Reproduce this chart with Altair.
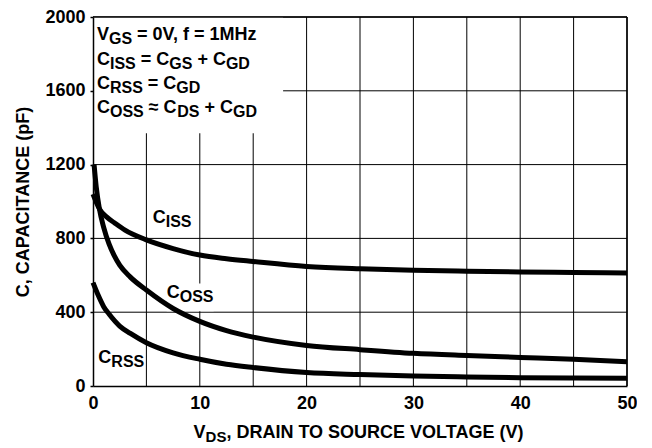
import altair as alt
import pandas as pd

# ---------------- data ----------------
V_ISS = [0, 0.6, 1.3, 2, 3, 5, 7.5, 10, 12.5, 15, 20, 25, 30, 35, 40, 45, 50]
C_ISS = [1040, 960, 915, 885, 845, 792, 745, 710, 690, 675, 648, 635, 627, 622, 618, 615, 612]

V_OSS = [0.1, 0.3, 0.6, 1, 1.5, 2, 2.5, 3.5, 5, 7.5, 10, 12.5, 15, 20, 25, 30, 35, 40, 45, 50]
C_OSS = [1200, 1080, 960, 860, 770, 705, 655, 590, 520, 420, 350, 300, 265, 220, 197, 177, 165, 155, 145, 132]

V_RSS = [0, 0.5, 1, 1.5, 2.5, 3.5, 5, 7.5, 10, 12.5, 15, 20, 25, 30, 35, 40, 45, 50]
C_RSS = [560, 490, 430, 390, 325, 285, 235, 180, 145, 118, 100, 73, 62, 54, 49, 45, 43, 42]

X_TICKS = [0, 10, 20, 30, 40, 50]
Y_TICKS = [0, 400, 800, 1200, 1600, 2000]
X_GRID = [5, 10, 15, 20, 25, 30, 35, 40, 45, 50]
Y_GRID = [400, 800, 1200, 1600, 2000]

# legend box (data units) and label backgrounds
BOX = dict(x=0, x2=17.8, y=1370, y2=2000)
COSS_BG = dict(x=6.9, x2=11.3, y=405, y2=555)

BOX_LINES = [
    [("V", False), ("GS", True), (" = 0V, f = 1MHz", False)],
    [("C", False), ("ISS", True), (" = C", False), ("GS", True), (" + C", False), ("GD", True)],
    [("C", False), ("RSS", True), (" = C", False), ("GD", True)],
    [("C", False), ("OSS", True), (" \u2248 C", False), ("DS", True), (" + C", False), ("GD", True)],
]
BOX_X = 0.37
BOX_Y = [1874, 1741, 1611, 1481]

CURVE_LABELS = [
    ([("C", False), ("ISS", True)], 5.59, 881),
    ([("C", False), ("OSS", True)], 6.9, 477),
    ([("C", False), ("RSS", True)], 0.5, 126),
]

X_TITLE = [("V", False), ("DS", True), (", DRAIN TO SOURCE VOLTAGE (V)", False)]
Y_TITLE = "C, CAPACITANCE (pF)"

FONT = "Liberation Sans"
W, H = 534, 369

# Arial/Liberation Sans Bold advance widths (1/1000 em)
ADV = {" ": 278, "(": 333, ")": 333, "+": 584, ",": 278, "=": 584, "\u2248": 584,
       "A": 722, "C": 722, "D": 722, "E": 667, "F": 611, "G": 778, "H": 722, "I": 278,
       "L": 611, "M": 833, "N": 722, "O": 778, "P": 667, "R": 722, "S": 667, "T": 611,
       "U": 722, "V": 667, "f": 333, "p": 611, "z": 500}
for d in "0123456789":
    ADV[d] = 556


def tw(s, size):
    return sum(ADV.get(ch, 600) for ch in s) * size / 1000.0


xs = alt.Scale(domain=[0, 50], nice=False)
ys = alt.Scale(domain=[0, 2000], nice=False)

X_AXIS = alt.Axis(
    values=X_TICKS, format="d", grid=False, tickSize=0, labelPadding=8, domainColor="black",
    domainWidth=1.5, labelFont=FONT, labelFontSize=18, labelFontWeight="bold",
    labelColor="black", labelFlush=False, labelOverlap=False, title=None, zindex=1)
Y_AXIS = alt.Axis(
    values=Y_TICKS, format="d", grid=False, tickSize=3, tickWidth=1.5, tickColor="black",
    labelPadding=5, domainColor="black", domainWidth=1.5, labelFont=FONT,
    labelFontSize=18, labelFontWeight="bold", labelColor="black", labelFlush=False,
    labelOverlap=False, title=Y_TITLE, titleFont=FONT, titleFontSize=18,
    titleFontWeight="bold", titleColor="black", titlePadding=12, zindex=1)

xq = alt.X("x:Q", scale=xs, axis=X_AXIS)
yq = alt.Y("y:Q", scale=ys, axis=Y_AXIS)


def rich(segs, x_enc, y_enc, size, sub_size, sub_dy, center=False, xy=None):
    widths = [tw(t, sub_size if sub else size) for t, sub in segs]
    cur = -sum(widths) / 2 if center else 0
    out = []
    for (t, sub), w in zip(segs, widths):
        fs = sub_size if sub else size
        lead = len(t) - len(t.lstrip(" "))
        off = cur + tw(" " * lead, fs)
        df = pd.DataFrame({"t": [t.strip()]})
        if xy is not None:
            df["x"] = [xy[0]]
            df["y"] = [xy[1]]
        out.append(
            alt.Chart(df).mark_text(
                align="left", baseline="alphabetic", dx=off, dy=(sub_dy if sub else 0),
                font=FONT, fontSize=fs, fontWeight="bold", color="black"
            ).encode(x=x_enc, y=y_enc, text="t:N")
        )
        cur += w
    return out


curves_df = pd.concat([
    pd.DataFrame({"s": "ISS", "x": V_ISS, "y": C_ISS}),
    pd.DataFrame({"s": "OSS", "x": V_OSS, "y": C_OSS}),
    pd.DataFrame({"s": "RSS", "x": V_RSS, "y": C_RSS}),
])

curves = alt.Chart(curves_df).mark_line(
    color="black", strokeWidth=5, interpolate="monotone", strokeCap="butt"
).encode(x=xq, y=yq, detail="s:N")

vgrid = alt.Chart(pd.DataFrame({"x": X_GRID})).mark_rule(color="black", strokeWidth=1).encode(x=xq)
hgrid = alt.Chart(pd.DataFrame({"y": Y_GRID})).mark_rule(color="black", strokeWidth=1).encode(y=yq)

box = alt.Chart(pd.DataFrame([BOX, COSS_BG])).mark_rect(color="white").encode(
    x=xq, x2="x2:Q", y=yq, y2="y2:Q")

frame_top = alt.Chart(pd.DataFrame({"y": [Y_GRID[-1]]})).mark_rule(color="black", strokeWidth=1.5).encode(y=yq)
frame_right = alt.Chart(pd.DataFrame({"x": [X_GRID[-1]]})).mark_rule(color="black", strokeWidth=1.5).encode(x=xq)

texts = []
for segs, by in zip(BOX_LINES, BOX_Y):
    texts += rich(segs, xq, yq, 18, 16, 4, xy=(BOX_X, by))
for segs, lx, ly in CURVE_LABELS:
    texts += rich(segs, xq, yq, 18, 16, 4, xy=(lx, ly))
texts += rich(X_TITLE, alt.value(W / 2), alt.value(H + 52), 18, 15, 4, center=True)

chart = alt.layer(vgrid, hgrid, box, frame_top, frame_right, curves, *texts).properties(
    width=W, height=H,
    autosize=alt.AutoSizeParams(type="none"),
    padding={"left": 85, "top": 9, "right": 10, "bottom": 59},
    background="white",
).configure_view(stroke=None)

chart.save("out.html", embed_options={"renderer": "svg", "actions": False})
